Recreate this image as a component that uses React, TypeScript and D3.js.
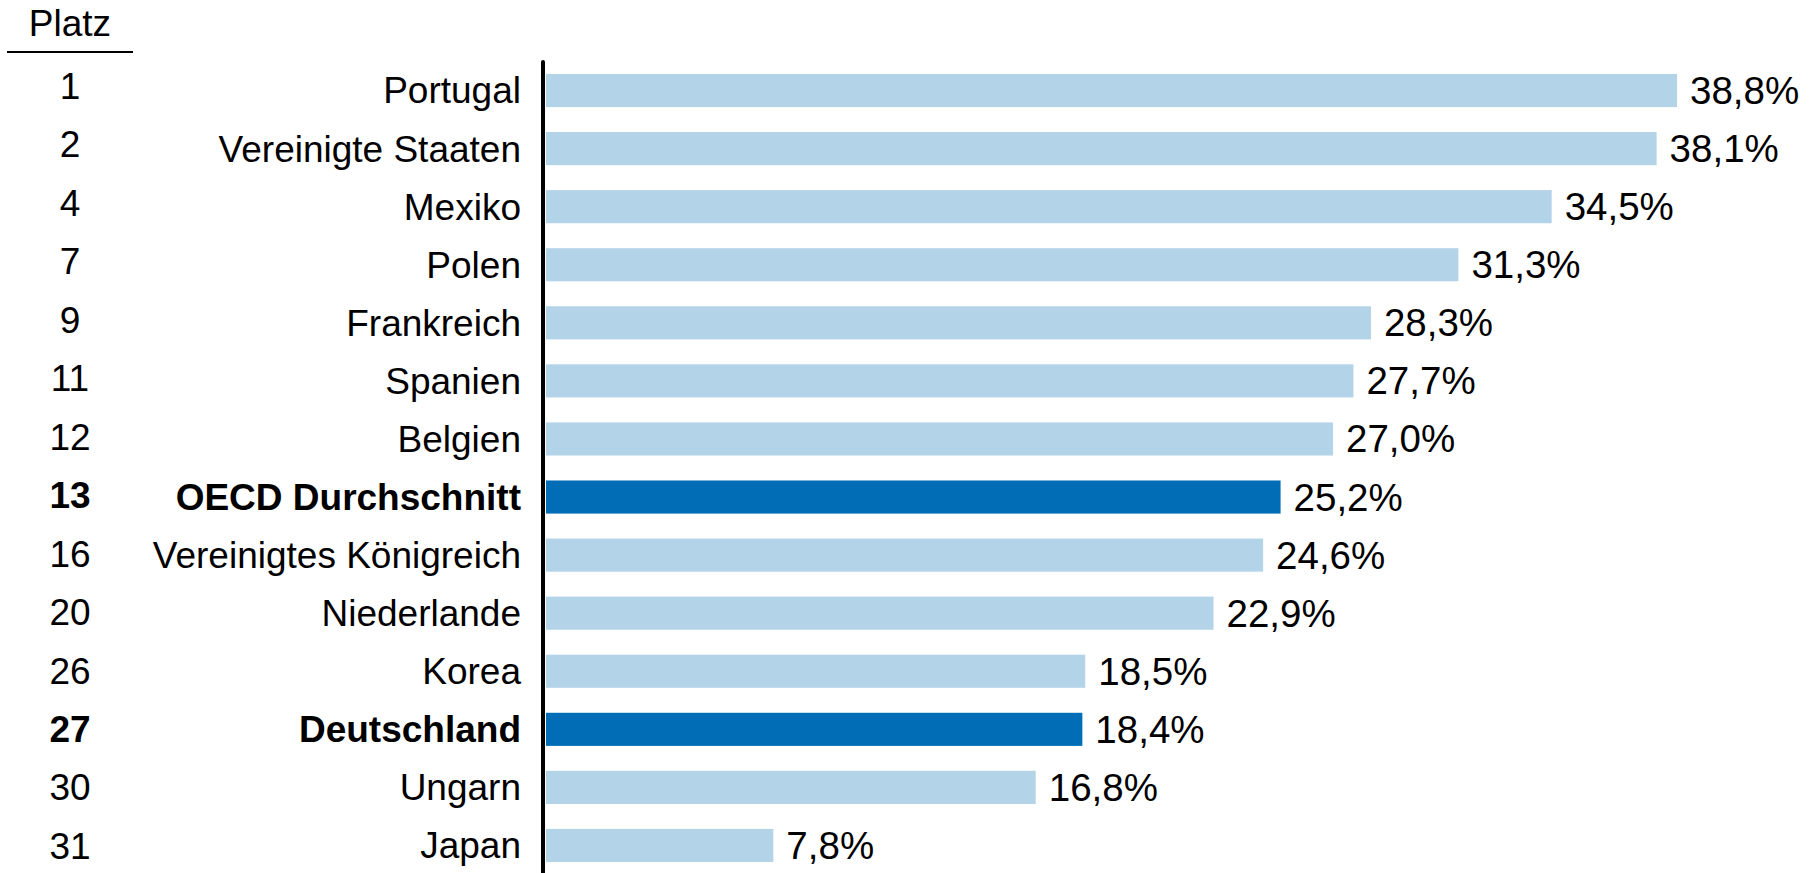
import React from "react";
import * as d3 from "d3";

const countries = [
  "Portugal",
  "Vereinigte Staaten",
  "Mexiko",
  "Polen",
  "Frankreich",
  "Spanien",
  "Belgien",
  "OECD Durchschnitt",
  "Vereinigtes Königreich",
  "Niederlande",
  "Korea",
  "Deutschland",
  "Ungarn",
  "Japan",
];
const ranks = [1, 2, 4, 7, 9, 11, 12, 13, 16, 20, 26, 27, 30, 31];
const values = [38.8, 38.1, 34.5, 31.3, 28.3, 27.7, 27.0, 25.2, 24.6, 22.9, 18.5, 18.4, 16.8, 7.8];
const highlighted = ["OECD Durchschnitt", "Deutschland"];

const width = 1813;
const height = 873;
const font = "'Liberation Sans', Arial, sans-serif";
const labelSize = 37;
const valueSize = 38.5;
const light = "#b3d3e8";
const dark = "#006db6";

const de = d3.formatLocale({ decimal: ",", thousands: ".", grouping: [3], currency: ["", " €"] });
const fmt = de.format(".1f");

const App = () => {
  const axisX = 543;
  const barX = 546;
  const x = d3.scaleLinear().domain([0, 40]).range([0, 1166]);
  const y = d3.scaleBand<string>().domain(countries).range([49, 887]).padding(0.43);
  // rank column sits on a slightly wider pitch than the bars
  const yRank = d3.scalePoint<string>().domain(countries).range([86, 846]);
  const rankX = 70;
  const labelX = 521;

  return (
    <div style={{ position: "absolute", left: 0, top: 0 }}>
      <svg width={width} height={height} style={{ display: "block" }} fontFamily={font}>
        <rect width={width} height={height} fill="#fff" />
        <text x={rankX} y={36} textAnchor="middle" fontSize={labelSize}>Platz</text>
        <line x1={7} x2={133} y1={52} y2={52} stroke="#000" strokeWidth={2} />
        {countries.map((c, i) => {
          const bold = highlighted.includes(c);
          const cy = (y(c) ?? 0) + y.bandwidth() / 2;
          const w = x(values[i]);
          return (
            <g key={c}>
              <rect x={barX} y={y(c)} width={w} height={y.bandwidth()} fill={bold ? dark : light} />
              <text x={rankX} y={yRank(c)} dy="0.35em" textAnchor="middle" fontSize={labelSize} fontWeight={bold ? "bold" : "normal"}>
                {ranks[i]}
              </text>
              <text x={labelX} y={cy} dy="0.35em" textAnchor="end" fontSize={labelSize} fontWeight={bold ? "bold" : "normal"}>
                {c}
              </text>
              <text x={barX + w + 13} y={cy} dy="0.35em" fontSize={valueSize}>
                {fmt(values[i]) + "%"}
              </text>
            </g>
          );
        })}
        <line x1={axisX} x2={axisX} y1={62} y2={height + 5} stroke="#000" strokeWidth={4} strokeLinecap="round" />
      </svg>
    </div>
  );
};

export default App;
